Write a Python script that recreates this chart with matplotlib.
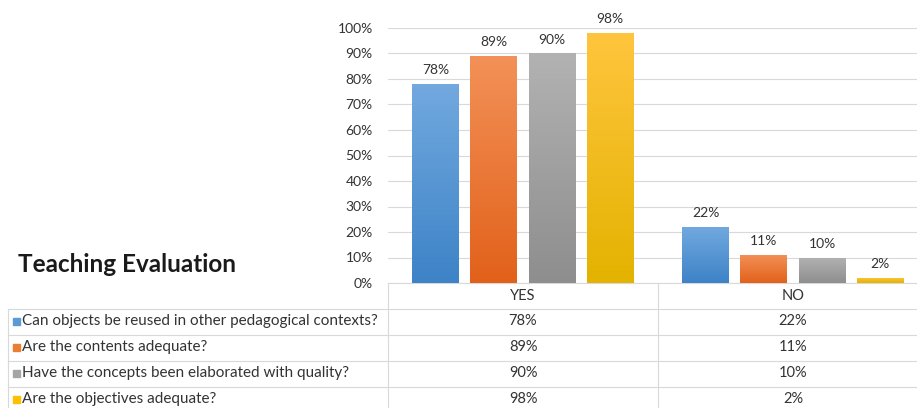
import numpy as np
import matplotlib.pyplot as plt
from matplotlib.colors import LinearSegmentedColormap

# données
categories = ['YES', 'NO']
questions = [
    'Can objects be reused in other pedagogical contexts?',
    'Are the contents adequate?',
    'Have the concepts been elaborated with quality?',
    'Are the objectives adequate?',
]
yes_values = [78, 89, 90, 98]
no_values = [22, 11, 10, 2]
yticks = [0, 10, 20, 30, 40, 50, 60, 70, 80, 90, 100]

# couleurs (haut, bas) pour le dégradé
colors_top = ['#72a9df', '#f39158', '#b2b2b2', '#ffc53e']
colors_bot = ['#3d83c7', '#e2611a', '#8e8e8e', '#e3b300']
colors_flat = ['#5b9bd5', '#ed7d31', '#a5a5a5', '#ffc000']

plt.rcParams['font.family'] = ['Lato', 'DejaVu Sans']
txt_c = '#333333'

W, H = 917, 408
fig = plt.figure(figsize=(W / 100, H / 100), dpi=100)

# axe du graphique (en pixels -> fraction de figure)
x_left, x_right, y_zero, y_top = 388, 928, 283, 28
ax = fig.add_axes([x_left / W, (H - y_zero) / H, (x_right - x_left) / W, (y_zero - y_top) / H])

values = np.array([yes_values, no_values]).T  # (question, catégorie)
bar_w = 0.174
step = 0.215
x = np.arange(len(categories))
grad = np.linspace(0, 1, 256).reshape(-1, 1)
for i in range(len(questions)):
    cmap = LinearSegmentedColormap.from_list('g', [colors_bot[i], colors_top[i]])
    xs = x + (i - 1.5) * step
    bars = ax.bar(xs, values[i], width=bar_w, color=colors_flat[i], zorder=2)
    for b, v in zip(bars, values[i]):
        im = ax.imshow(grad, extent=[b.get_x(), b.get_x() + b.get_width(), 0, v],
                       origin='lower', aspect='auto', cmap=cmap, zorder=3)
        im.set_clip_path(b)
        ax.text(b.get_x() + b.get_width() / 2, v + 3, f'{v}%', ha='center', va='bottom',
                fontsize=10, color=txt_c, clip_on=False)

ax.set_xlim(-0.5, 1.5)
ax.set_ylim(0, 100)
ax.set_yticks(yticks)
ax.set_yticklabels([f'{t}%' for t in yticks], fontsize=10, color=txt_c)
ax.set_xticks([])
ax.tick_params(axis='y', length=0, pad=11)
ax.yaxis.grid(True, color='#d9d9d9', linewidth=0.8)
ax.set_axisbelow(True)
for s in ['left', 'right', 'top']:
    ax.spines[s].set_visible(False)
ax.spines['bottom'].set_color('#d9d9d9')

# tableau de données sous le graphique, en coordonnées pixels
tab = fig.add_axes([0, 0, 1, 1])
tab.set_xlim(0, W)
tab.set_ylim(H, 0)
tab.axis('off')
line_c = '#d9d9d9'
col_x = [8, 388, 658, 928]
row_y = [284, 309, 335, 361, 387, 413]

tab.plot([388, 388], [row_y[0], H], color=line_c, lw=0.8)
tab.plot([658, 658], [row_y[0], H], color=line_c, lw=0.8)
tab.plot([8, 8], [row_y[1], H], color=line_c, lw=0.8)
for yy in row_y[1:5]:
    tab.plot([8, W], [yy, yy], color=line_c, lw=0.8)

for j, cat in enumerate(categories):
    cx = (col_x[j + 1] + col_x[j + 2]) / 2
    tab.text(cx, (row_y[0] + row_y[1]) / 2, cat, ha='center', va='center', fontsize=10.5, color=txt_c)

for i, q in enumerate(questions):
    cy = (row_y[i + 1] + row_y[i + 2]) / 2 - 1
    tab.add_patch(plt.Rectangle((13, cy - 3.5), 7, 7, color=colors_flat[i]))
    tab.text(22, cy, q, ha='left', va='center', fontsize=11, color=txt_c)
    for j in range(len(categories)):
        cx = (col_x[j + 1] + col_x[j + 2]) / 2
        tab.text(cx, cy, f'{values[i][j]}%', ha='center', va='center', fontsize=10.5, color=txt_c)

fig.text(18 / W, 1 - 265 / H, 'Teaching Evaluation', fontsize=17.5, fontweight='bold',
         color='#1a1a1a', ha='left', va='center')

fig.savefig('out.png', dpi=100)
